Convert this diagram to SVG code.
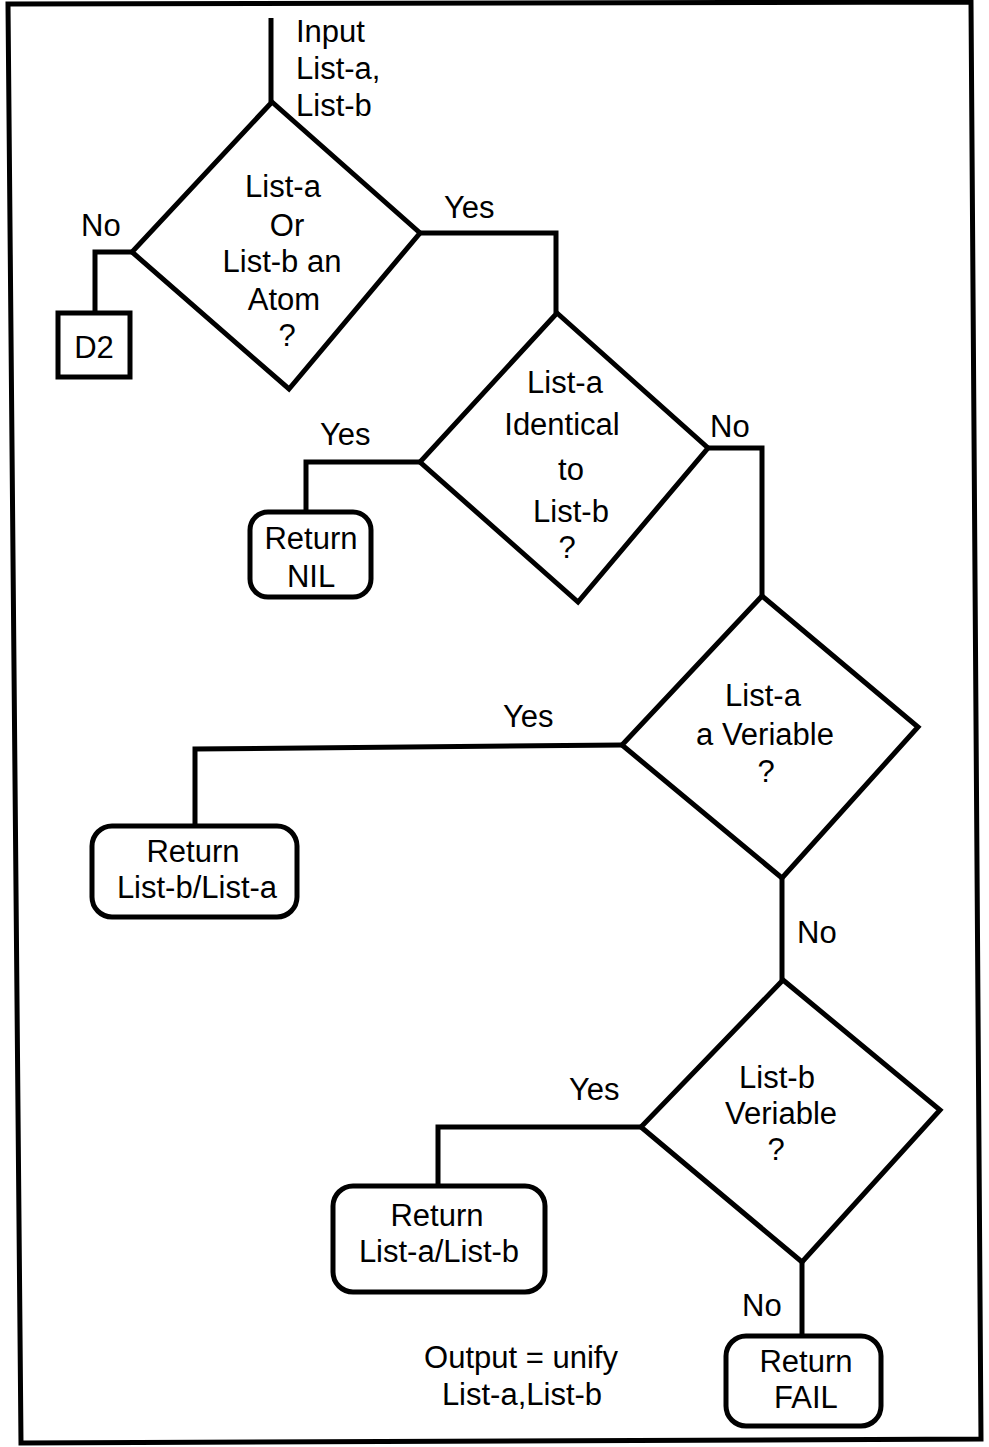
<svg xmlns="http://www.w3.org/2000/svg" width="989" height="1447" viewBox="0 0 989 1447">
<style>
.s{fill:none;stroke:#000;stroke-width:5;stroke-linejoin:miter}
.b{fill:#fff;stroke:#000;stroke-width:5}
.t{font-family:"Liberation Sans",Arial,sans-serif;font-size:31px;fill:#000}
.c{text-anchor:middle}
</style>
<rect width="989" height="1447" fill="#fff"/>
<polygon id="frame" class="s" stroke-width="6" points="8,4 971,2 981,1439 21,1443"/>
<g id="connectors">
<path class="s" d="M271,18 V102"/>
<path class="s" d="M132,252 H95 V313"/>
<path class="s" d="M420,233 H556 V313"/>
<path class="s" d="M420,462 H306 V512"/>
<path class="s" d="M708,448 H762 V596"/>
<path class="s" d="M622,745 L195,749 V826"/>
<path class="s" d="M782,878 V980"/>
<path class="s" d="M641,1127 H438 V1186"/>
<path class="s" d="M802,1262 V1336"/>
</g>
<g id="labels">
<text class="t" x="296" y="42">Input</text>
<text class="t" x="296" y="79">List-a,</text>
<text class="t" x="296" y="116">List-b</text>
<text class="t" x="81" y="236">No</text>
<text class="t" x="444" y="218">Yes</text>
<text class="t" x="320" y="445">Yes</text>
<text class="t" x="710" y="437">No</text>
<text class="t" x="503" y="727">Yes</text>
<text class="t" x="797" y="943">No</text>
<text class="t" x="569" y="1100">Yes</text>
<text class="t" x="742" y="1316">No</text>
<text class="t c" x="521" y="1368">Output = unify</text>
<text class="t c" x="522" y="1405">List-a,List-b</text>
</g>
<g id="d1">
<polygon class="b" points="272,102 420,233 289,389 132,252"/>
<text class="t c" x="283" y="197">List-a</text>
<text class="t c" x="287" y="236">Or</text>
<text class="t c" x="282" y="272">List-b an</text>
<text class="t c" x="284" y="310">Atom</text>
<text class="t c" x="287" y="346">?</text>
</g>
<g id="d2box">
<rect class="b" x="58" y="313" width="72" height="64"/>
<text class="t c" x="94" y="358">D2</text>
</g>
<g id="d2">
<polygon class="b" points="557,313 708,448 578,602 420,462"/>
<text class="t c" x="565" y="393">List-a</text>
<text class="t c" x="562" y="435">Identical</text>
<text class="t c" x="571" y="480">to</text>
<text class="t c" x="571" y="522">List-b</text>
<text class="t c" x="567" y="558">?</text>
</g>
<g id="retnil">
<rect class="b" x="250" y="512" width="121" height="85" rx="18"/>
<text class="t c" x="311" y="549">Return</text>
<text class="t c" x="311" y="587">NIL</text>
</g>
<g id="d3">
<polygon class="b" points="762,596 918,727 782,878 622,745"/>
<text class="t c" x="763" y="706">List-a</text>
<text class="t c" x="765" y="745">a Veriable</text>
<text class="t c" x="766" y="782">?</text>
</g>
<g id="retba">
<rect class="b" x="92" y="826" width="205" height="91" rx="20"/>
<text class="t c" x="193" y="862">Return</text>
<text class="t c" x="197" y="898">List-b/List-a</text>
</g>
<g id="d4">
<polygon class="b" points="783,980 940,1110 802,1262 641,1127"/>
<text class="t c" x="777" y="1088">List-b</text>
<text class="t c" x="781" y="1124">Veriable</text>
<text class="t c" x="776" y="1160">?</text>
</g>
<g id="retab">
<rect class="b" x="333" y="1186" width="212" height="106" rx="20"/>
<text class="t c" x="437" y="1226">Return</text>
<text class="t c" x="439" y="1262">List-a/List-b</text>
</g>
<g id="retfail">
<rect class="b" x="726" y="1336" width="155" height="90" rx="20"/>
<text class="t c" x="806" y="1372">Return</text>
<text class="t c" x="806" y="1408">FAIL</text>
</g>
</svg>
